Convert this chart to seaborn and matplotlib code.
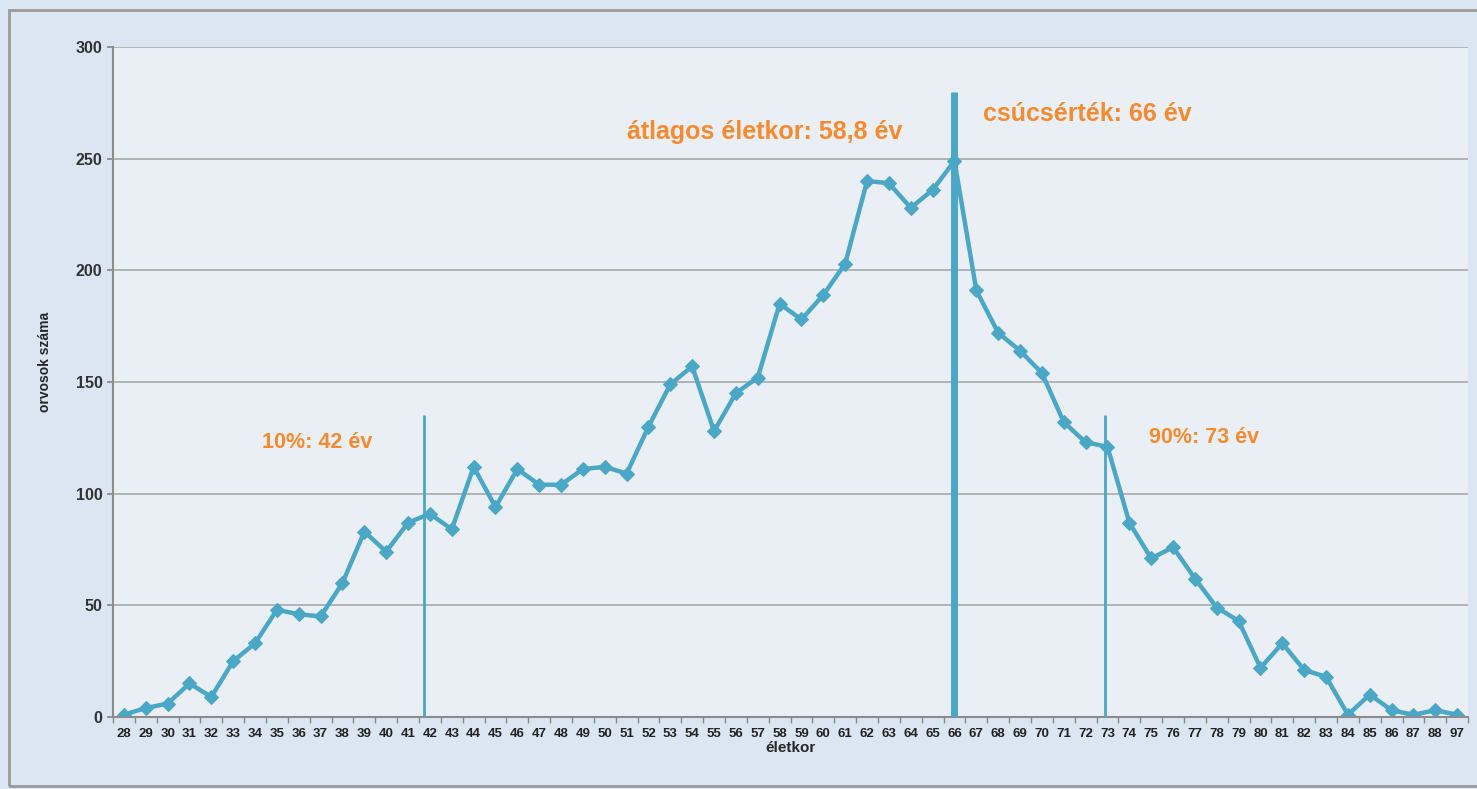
import matplotlib
matplotlib.use("Agg")
import matplotlib.pyplot as plt
import numpy as np
import pandas as pd
import seaborn as sns
from matplotlib.patches import Rectangle

sns.set_theme(style="whitegrid")
plt.rcParams["font.family"] = ["Liberation Sans", "DejaVu Sans"]

# Data
ages = list(range(28, 89)) + [97]
counts = [1, 4, 6, 15, 9, 25, 33, 48, 46, 45,
          60, 83, 74, 87, 91, 84, 112, 94, 111, 104,
          104, 111, 112, 109, 130, 149, 157, 128, 145, 152,
          185, 178, 189, 203, 240, 239, 228, 236, 249, 191,
          172, 164, 154, 132, 123, 121, 87, 71, 76, 62,
          49, 43, 22, 33, 21, 18, 1, 10, 3, 1,
          3, 1]

marker_ages = [42, 66, 73]
marker_tops = [135, 280, 135]
marker_widths = [2, 5, 2]
marker_shift = [-0.28, 0.0, -0.1]  # the lines sit slightly off the category centre

labels = ["10%: 42 év", "átlagos életkor: 58,8 év", "csúcsérték: 66 év", "90%: 73 év"]
label_x = [34.3, 51.0, 67.3, 74.9]   # in age-category units
label_y = [123, 262, 270, 125]
label_size = [15.5, 18, 18, 15.5]

line_col = "#4AA7C5"
text_col = "#F58A2E"

df = pd.DataFrame({"pos": np.arange(len(ages)), "count": counts})

fig = plt.figure(figsize=(14.77, 7.89), dpi=100, facecolor="#DCE6F2")
ax = fig.add_axes([0.0765, 0.0913, 0.9175, 0.8491])
ax.set_facecolor("#E9EFF5")

sns.lineplot(data=df, x="pos", y="count", color=line_col, linewidth=3.2,
             marker="D", markersize=7.5, markeredgecolor=line_col, ax=ax)

for a, top, w, dx in zip(marker_ages, marker_tops, marker_widths, marker_shift):
    p = ages.index(a)
    ax.vlines(p + dx, 0, top, color=line_col, linewidth=w, zorder=3)

for t, x, y, s in zip(labels, label_x, label_y, label_size):
    ax.text(x - 28, y, t, color=text_col, fontsize=s, fontweight="bold",
            ha="left", va="center")

ax.set_xlim(-0.5, len(ages) - 0.5)
ax.set_ylim(0, 300)
ax.set_yticks(range(0, 301, 50))
ax.set_xticks(np.arange(len(ages)))
ax.set_xticklabels([str(a) for a in ages], fontsize=9.5, fontweight="bold")
ax.set_xticks(np.arange(len(ages) + 1) - 0.5, minor=True)
ax.tick_params(axis="x", which="major", length=0, pad=8, colors="#222222")
ax.tick_params(axis="x", which="minor", length=4, color="#888888", bottom=True)
ax.tick_params(axis="y", length=4, color="#888888", left=True, labelsize=11.5,
               colors="#333333")
for lab in ax.get_yticklabels():
    lab.set_fontweight("bold")

ax.grid(axis="x", visible=False)
ax.grid(axis="y", color="#A9A9A9", linewidth=1.2)
for s in ["top", "right"]:
    ax.spines[s].set_visible(False)
for s in ["left", "bottom"]:
    ax.spines[s].set_color("#8C8C8C")
    ax.spines[s].set_linewidth(1.5)

ax.set_xlabel("életkor", fontsize=11, fontweight="bold", labelpad=1)
ax.set_ylabel("orvosok száma", fontsize=10, fontweight="bold")
ax.yaxis.set_label_coords(-0.045, 0.53)

fig.patches.append(Rectangle((0.006, 0.004), 1.1, 0.983, transform=fig.transFigure,
                             fill=False, edgecolor="#9A9A9A", linewidth=2))

fig.savefig("out.png", dpi=100, facecolor=fig.get_facecolor())
